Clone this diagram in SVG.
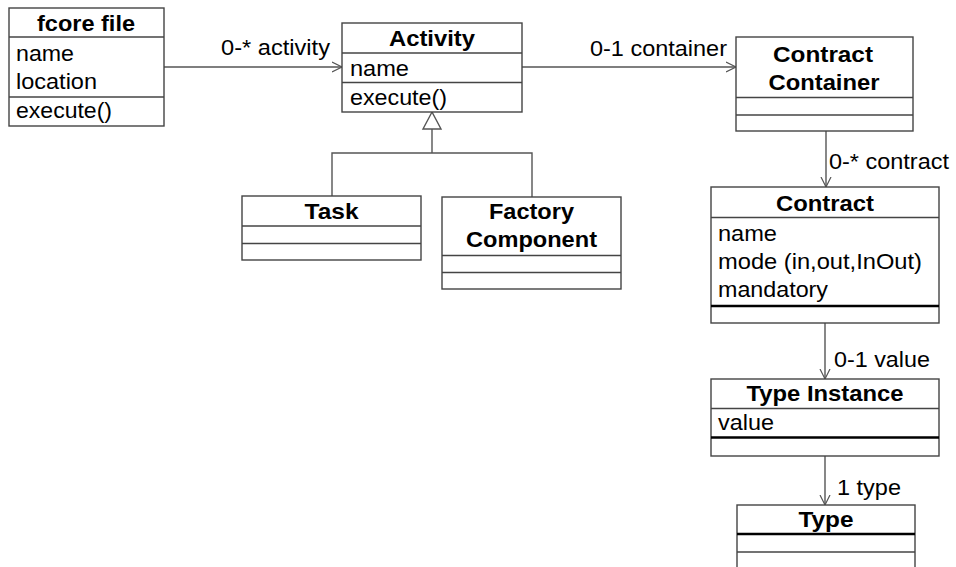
<svg xmlns="http://www.w3.org/2000/svg" width="956" height="567" viewBox="0 0 956 567">
<defs>
<marker id="open" markerUnits="userSpaceOnUse" markerWidth="12" markerHeight="12" refX="10" refY="5" orient="auto" viewBox="0 0 12 10">
<path d="M0,0 L10,5 L0,10" fill="none" stroke="#555" stroke-width="1.2"/>
</marker>
</defs>
<style>
text{font-family:"Liberation Sans",Arial,sans-serif;font-size:22px;fill:#000}
.b{font-weight:bold;text-anchor:middle}
.box{fill:#fff;stroke:#444;stroke-width:1.4}
.div{stroke:#444;stroke-width:1.4}
.thick{stroke:#000;stroke-width:2.4}
.conn{fill:none;stroke:#555;stroke-width:1.4}
</style>
<rect width="956" height="567" fill="#fff"/>

<g id="connectors">
<line class="conn" x1="164" y1="67" x2="342" y2="67" marker-end="url(#open)"/>
<line class="conn" x1="522" y1="67" x2="736" y2="67" marker-end="url(#open)"/>
<line class="conn" x1="826" y1="131" x2="826" y2="187" marker-end="url(#open)"/>
<line class="conn" x1="825" y1="323" x2="825" y2="379" marker-end="url(#open)"/>
<line class="conn" x1="825" y1="456" x2="825" y2="505" marker-end="url(#open)"/>
<polyline class="conn" points="432,129 432,153"/>
<polyline class="conn" points="332,196 332,153 532,153 532,197"/>
<polygon points="432,112 423,129 441,129" fill="#fff" stroke="#555" stroke-width="1.4"/>
<text x="221" y="55" textLength="109" lengthAdjust="spacingAndGlyphs">0-* activity</text>
<text x="590" y="56" textLength="137" lengthAdjust="spacingAndGlyphs">0-1 container</text>
<text x="829" y="169" textLength="120" lengthAdjust="spacingAndGlyphs">0-* contract</text>
<text x="834" y="367" textLength="96" lengthAdjust="spacingAndGlyphs">0-1 value</text>
<text x="837" y="495" textLength="64" lengthAdjust="spacingAndGlyphs">1 type</text>
</g>

<g id="fcore-file">
<rect class="box" x="9" y="8" width="155" height="118"/>
<line class="div" x1="9" y1="37" x2="164" y2="37"/>
<line class="div" x1="9" y1="97" x2="164" y2="97"/>
<text class="b" x="86" y="31" textLength="98" lengthAdjust="spacingAndGlyphs">fcore file</text>
<text x="16" y="61" textLength="58" lengthAdjust="spacingAndGlyphs">name</text>
<text x="16" y="89" textLength="81" lengthAdjust="spacingAndGlyphs">location</text>
<text x="16" y="118" textLength="96" lengthAdjust="spacingAndGlyphs">execute()</text>
</g>

<g id="activity">
<rect class="box" x="342" y="23" width="180" height="89"/>
<line class="div" x1="342" y1="53" x2="522" y2="53"/>
<line class="div" x1="342" y1="82.5" x2="522" y2="82.5"/>
<text class="b" x="432" y="46" textLength="86" lengthAdjust="spacingAndGlyphs">Activity</text>
<text x="350" y="76" textLength="59" lengthAdjust="spacingAndGlyphs">name</text>
<text x="350" y="105" textLength="97" lengthAdjust="spacingAndGlyphs">execute()</text>
</g>

<g id="task">
<rect class="box" x="242" y="196" width="179" height="64"/>
<line class="div" x1="242" y1="226" x2="421" y2="226"/>
<line class="div" x1="242" y1="243.5" x2="421" y2="243.5"/>
<text class="b" x="331.5" y="219" textLength="54" lengthAdjust="spacingAndGlyphs">Task</text>
</g>

<g id="factory-component">
<rect class="box" x="442" y="197" width="179" height="92"/>
<line class="div" x1="442" y1="255.5" x2="621" y2="255.5"/>
<line class="div" x1="442" y1="272.5" x2="621" y2="272.5"/>
<text class="b" x="531.5" y="219" textLength="85" lengthAdjust="spacingAndGlyphs">Factory</text>
<text class="b" x="531.5" y="247" textLength="131" lengthAdjust="spacingAndGlyphs">Component</text>
</g>

<g id="contract-container">
<rect class="box" x="736" y="37" width="177" height="94"/>
<line class="div" x1="736" y1="97.5" x2="913" y2="97.5"/>
<line class="div" x1="736" y1="115" x2="913" y2="115"/>
<text class="b" x="823" y="62" textLength="100" lengthAdjust="spacingAndGlyphs">Contract</text>
<text class="b" x="824" y="90" textLength="111" lengthAdjust="spacingAndGlyphs">Container</text>
</g>

<g id="contract">
<rect class="box" x="711" y="187" width="228" height="136"/>
<line class="div" x1="711" y1="217.5" x2="939" y2="217.5"/>
<line class="thick" x1="711" y1="306" x2="939" y2="306"/>
<text class="b" x="825" y="211" textLength="98" lengthAdjust="spacingAndGlyphs">Contract</text>
<text x="718" y="241" textLength="59" lengthAdjust="spacingAndGlyphs">name</text>
<text x="718" y="269" textLength="204" lengthAdjust="spacingAndGlyphs">mode (in,out,InOut)</text>
<text x="718" y="297" textLength="110" lengthAdjust="spacingAndGlyphs">mandatory</text>
</g>

<g id="type-instance">
<rect class="box" x="711" y="379" width="228" height="77"/>
<line class="div" x1="711" y1="408.5" x2="939" y2="408.5"/>
<line class="thick" x1="711" y1="437.5" x2="939" y2="437.5"/>
<text class="b" x="825" y="401" textLength="157" lengthAdjust="spacingAndGlyphs">Type Instance</text>
<text x="718" y="430" textLength="56" lengthAdjust="spacingAndGlyphs">value</text>
</g>

<g id="type">
<rect class="box" x="737" y="505" width="178" height="80"/>
<line class="thick" x1="737" y1="534" x2="915" y2="534"/>
<line class="div" x1="737" y1="552" x2="915" y2="552"/>
<text class="b" x="826" y="527" textLength="55" lengthAdjust="spacingAndGlyphs">Type</text>
</g>
</svg>
